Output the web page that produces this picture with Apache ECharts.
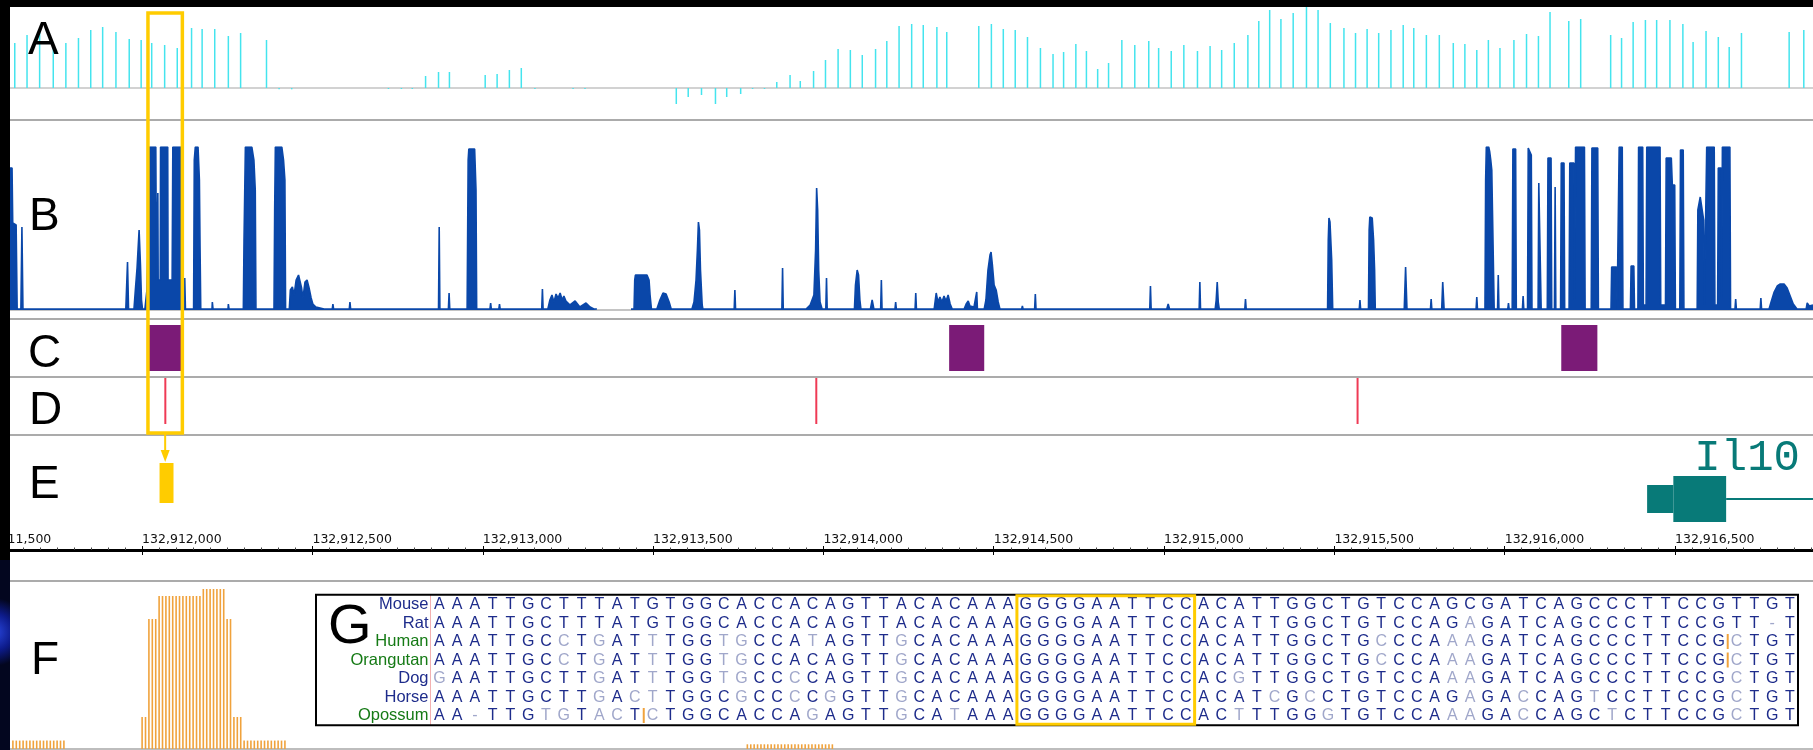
<!DOCTYPE html>
<html><head><meta charset="utf-8">
<script src="https://cdn.jsdelivr.net/npm/echarts/dist/echarts.min.js"></script>
<style>html,body{margin:0;padding:0;background:#fff}#c{width:1813px;height:750px}</style>
</head><body><div id="c"></div>
<script>
// ---------- DATA (genomic offsets are bp relative to ORIGIN) ----------
const ORIGIN = 132912000;
const VIEW = [-388, 4905];
const RULER_START = -500;
const RULER_STEP = 500;

// A: conservation (phyloP-like) bars
const consPos = [-374,-338,-301,-261,-224,-187,-151,-116,-77,-38,-3,28,66,103,145,176,213,253,289,365,402,439,723,761,793,832,870,902,1007,1042,1078,1113,1153,1265,1300,1568,1603,1642,1683,1716,1757,1792,1827,1863,1902,1932,1971,2006,2043,2079,2114,2153,2186,2222,
 2259,2293,2333,2362,2456,2493,2528,2563,2599,2637,2674,2705,2741,2772,2805,2837,2876,2914,2955,2984,3021,3058,3098,3135,3169,3206,3246,3278,3310,3343,3379,3418,3452,3488,3528,3562,3596,3630,3666,3702,3733,3770,3808,3849,3883,3918,3952,3986,4027,4064,4099,4133,4188,4223,4311,4343,4377,4413,4446,4485,4523,4553,4591,4627,4659,4695,4835,4878];
const consVal = [45,53,56,46,45,50,58,61,56,49,48,45,43,40,60,59,59,52,55,48,-1.3,-1.3,-1,-1,-1,12,16,16,13,14,18,20,-1,-1,-1,-16,-9,-7,-16,-9,-6,-1,-1,6,13,7,17,28,39,38,33,39,47,62,
 64,63,61,56,62,64,59,58,51,40,34,36,44,37,19,25,48,43,47,40,37,43,37,42,38,45,53,67,78,69,75,81,78,65,60,55,59,55,58,63,60,53,53,45,44,38,48,40,48,54,52,76,67,69,53,50,66,68,68,68,64,46,57,51,41,55,56,58];

// B: read coverage [offset, depth]
const coverage = [[-388,142],[-382,142],[-380,87],[-370,85],[-367,1],[-356,1],[-353,83],[-350,1],
[-48,1],[-43,48],[-40,1],[-24,1],[-20,20],[-15,42],[-9,80],[-5,45],[-2,10],[1,1],
[8,1],[14,20],[17,60],[21,163],[40,163],[42,30],[45,30],[46,117],[47,30],[53,30],[54,163],[75,163],[76,30],[88,30],[90,163],[115,163],[117,20],[118,3],
[123,1],[125,32],[127,1],[151,1],[153,150],[156,163],[164,163],[168,130],[170,60],[172,1],
[205,1],[206,8],[208,1],[252,1],[253,6],[255,1],
[297,1],[299,70],[303,163],[322,163],[328,150],[332,120],[334,1],
[387,1],[389,100],[391,163],[410,163],[415,150],[419,130],[421,1],
[432,1],[435,20],[441,23],[446,15],[452,30],[459,35],[463,33],[468,22],[472,12],[478,28],[484,30],[490,22],[496,12],[501,6],[510,3],[522,2],[534,1],
[558,1],[560,6],[562,1],[608,1],[610,8],[612,1],
[870,1],[872,83],[874,1],[899,1],[901,17],[903,1],
[954,1],[957,150],[959,161],[976,161],[980,120],[982,1],
[1021,1],[1023,7],[1025,1],[1047,1],[1049,6],[1051,1],[1173,1],[1175,21],[1177,1],
[1191,1],[1197,10],[1203,15],[1209,8],[1215,16],[1221,12],[1227,17],[1233,10],[1238,14],[1244,9],[1256,5],[1271,9],[1285,3],[1303,7],[1315,3],[1326,1],[1335,1],
[1336,'-'],
[1435,1],[1444,1],[1446,30],[1448,35],[1482,35],[1488,30],[1491,15],[1495,1],
[1511,1],[1520,10],[1529,17],[1538,16],[1547,8],[1553,1],
[1614,1],[1620,8],[1626,30],[1630,60],[1633,88],[1636,80],[1639,40],[1644,5],[1646,1],
[1738,1],[1740,20],[1742,1],[1878,1],[1880,42],[1882,1],
[1949,1],[1961,5],[1972,15],[1977,60],[1980,122],[1983,100],[1986,40],[1990,8],[1996,1],
[2007,1],[2009,32],[2011,1],
[2091,1],[2094,25],[2099,40],[2103,35],[2107,10],[2110,1],
[2138,1],[2143,10],[2148,1],[2168,1],[2170,30],[2172,1],[2210,1],[2212,8],[2214,1],[2269,1],[2271,17],[2273,1],
[2325,1],[2331,17],[2336,8],[2342,13],[2348,8],[2354,14],[2360,9],[2366,15],[2372,6],[2378,1],
[2413,1],[2419,6],[2425,9],[2430,4],[2442,3],[2450,18],[2452,1],
[2472,1],[2477,10],[2483,40],[2489,55],[2492,58],[2496,45],[2501,25],[2507,20],[2513,8],[2518,1],
[2582,1],[2584,4],[2586,1],[2620,1],[2622,16],[2624,1],[2958,1],[2960,24],[2962,1],[3008,1],[3012,6],[3016,1],
[3103,1],[3105,28],[3107,1],[3150,1],[3153,10],[3156,28],[3159,8],[3162,1],[3237,1],[3239,11],[3241,1],
[3480,1],[3482,70],[3484,92],[3487,88],[3492,50],[3495,1],[3573,1],[3575,10],[3577,1],
[3600,1],[3602,80],[3604,93],[3611,92],[3615,70],[3618,40],[3620,1],
[3705,1],[3709,43],[3713,1],[3782,1],[3784,11],[3786,1],[3815,1],[3818,28],[3822,1],[3916,1],[3918,13],[3920,1],
[3942,1],[3944,130],[3946,163],[3953,163],[3956,158],[3959,150],[3962,140],[3964,100],[3969,1],
[3979,1],[3981,35],[3983,1],[4009,1],[4011,7],[4013,1],
[4022,1],[4024,161],[4032,161],[4034,1],[4052,1],[4054,14],[4056,1],
[4067,1],[4069,162],[4078,155],[4080,1],[4098,1],[4100,127],[4105,127],[4107,1],
[4125,1],[4127,152],[4136,152],[4138,1],[4146,1],[4148,123],[4150,1],
[4164,1],[4166,147],[4174,147],[4176,1],
[4189,1],[4191,147],[4203,147],[4205,10],[4208,163],[4234,163],[4236,1],
[4254,1],[4256,162],[4273,162],[4275,1],
[4312,1],[4314,43],[4328,43],[4330,1],[4334,1],[4336,163],[4345,163],[4347,1],
[4369,1],[4371,44],[4379,44],[4381,1],
[4391,1],[4393,163],[4405,163],[4407,5],[4415,5],[4417,163],[4456,163],[4458,5],
[4472,5],[4474,152],[4489,152],[4492,125],[4499,125],[4501,1],
[4514,1],[4516,160],[4524,160],[4526,1],
[4565,1],[4567,100],[4574,113],[4584,90],[4586,5],
[4591,5],[4593,163],[4615,163],[4617,5],
[4625,5],[4627,142],[4635,142],[4637,10],[4639,163],[4661,163],[4663,1],
[4676,1],[4678,11],[4680,1],[4750,1],[4752,12],[4754,1],
[4776,1],[4782,8],[4791,18],[4800,24],[4809,26],[4820,26],[4829,22],[4838,14],[4847,6],[4858,1],
[4885,1],[4888,7],[4894,4],[4905,5]];

// C: CpG-like islands [start, end]
const islands = [[14,119],[2369,2472],[4166,4272]];
// D: variant sites
const snpPos = [68, 1979, 3568];
// E: highlighted element and Il10 gene model
const elementE = [[51, 92]];
const il10Name = 'Il10';
const il10Exons = [[4418, 4495, 'utr'], [4495, 4650, 'cds']];
const il10Intron = [4650, 5400];
// annotation window (yellow box)
const highlight = [17, 118];

// F: per-base conservation in zoomed window [column, height]
const fPos = [1,2,3,4,5,6,7,8,9,10,11,12,13,14,15,16,
 39,40,41,42,43,44,45,46,47,48,49,50,51,52,53,54,55,56,57,58,59,60,61,62,63,64,65,66,67,68,
 69,70,71,72,73,74,75,76,77,78,79,80,81,
 217,218,219,220,221,222,223,224,225,226,227,228,229,230,231,232,233,234,235,236,237,238,239,240,241,242];
const fVal = [8.4,8.4,8.4,8.4,8.4,8.4,8.4,8.4,8.4,8.4,8.4,8.4,8.4,8.4,8.4,8.4,
 32,32,130,130,130,153,153,153,153,153,153,153,153,153,153,153,153,153,160,160,160,160,160,160,160,130,130,32,32,32,
 8.4,8.4,8.4,8.4,8.4,8.4,8.4,8.4,8.4,8.4,8.4,8.4,8.4,
 4.7,4.7,4.7,4.7,4.7,4.7,4.7,4.7,4.7,4.7,4.7,4.7,4.7,4.7,4.7,4.7,4.7,4.7,4.7,4.7,4.7,4.7,4.7,4.7,4.7,4.7];
const F_COLUMNS = 530.4;

// G: multiple alignment
const species = ['Mouse','Rat','Human','Orangutan','Dog','Horse','Opossum'];
const alignment = [
 'AAATTGCTTTATGTGGCACCACAGTTACACAAAGGGGAATTCCACATTGGCTGTCCAGCGATCAGCCCTTCCGTTGT',
 'AAATTGCTTTATGTGGCACCACAGTTACACAAAGGGGAATTCCACATTGGCTGTCCAGAGATCAGCCCTTCCGTT-T',
 'AAATTGCCTGATTTGGTGCCATAGTTGCACAAAGGGGAATTCCACATTGGCTGCCCAAAGATCAGCCCTTCCGCTGT',
 'AAATTGCCTGATTTGGTGCCACAGTTGCACAAAGGGGAATTCCACATTGGCTGCCCAAAGATCAGCCCTTCCGCTGT',
 'GAATTGCTTGATTTGGTGCCCCAGTTGCACAAAGGGGAATTCCACGTTGGCTGTCCAAAGATCAGCCCTTCCGCTGT',
 'AAATTGCTTGACTTGGCGCCCCGGTTGCACAAAGGGGAATTCCACATCGCCTGTCCAGAGACCAGTCCTTCCGCTGT',
 'AA-TTGTGTACTCTGGCACCAGAGTTGCATAAAGGGGAATTCCACTTTGGGTGTCCAAAGACCAGCTCTTCCGCTGT'];
const insertions = [[2, 72], [3, 72], [6, 11]]; // [row, column before mark]
const motifCols = [33, 42];
const speciesGroup = {Mouse:'rod', Rat:'rod', Human:'pri', Orangutan:'pri', Dog:'oth', Horse:'oth', Opossum:'pri'};

// ---------- STYLE ----------
const C_CYAN = '#44e4ee', C_BLUE = '#0a47a9', C_PURPLE = '#7b1b77', C_RED = '#ef3a55',
      C_YEL = '#ffcc00', C_TEAL = '#087a78', C_ORANGE = '#f0a23c',
      C_DARK = '#1e2c8b', C_LIGHT = '#a0a7ca', C_GREEN = '#157a15';
const W = 1813;
const NAME_SIZE = 16.5;

const fmt = v => String(Math.round(v)).replace(/\B(?=(\d{3})+(?!\d))/g, ',');

const grids = [
 {left:10, right:0, top:7, height:112},     // 0 A
 {left:10, right:0, top:147, height:163},   // 1 B
 {left:10, right:0, top:325, height:46},    // 2 C
 {left:10, right:0, top:378, height:46},    // 3 D
 {left:10, right:0, top:455, height:75},    // 4 E
 {left:-28.2, right:0, top:500, height:50}, // 5 ruler
 {left:-28.2, right:0, top:500, height:50}, // 6 ruler (down ticks)
 {left:9.5, right:0, top:589, height:160},  // 7 F
 {left:430.5, top:595.25, width:1368.3, height:129.5} // 8 G
].map(g => Object.assign({outerBoundsMode:'none', containLabel:false}, g));

const hidden = {axisLabel:{show:false}, axisTick:{show:false}, splitLine:{show:false}, axisLine:{show:false}};
const trackX = (gi, extra) => Object.assign({type:'value', gridIndex:gi, min:ORIGIN+VIEW[0], max:ORIGIN+VIEW[1]}, hidden, extra || {});

const xAxes = [
 trackX(0, {axisLine:{show:true, onZero:true, lineStyle:{color:'#d2d2d2', width:2}}}),
 trackX(1, {axisLine:{show:true, onZero:false, lineStyle:{color:'#c4c4c4', width:2}}}),
 trackX(2), trackX(3), trackX(4),
 {type:'value', gridIndex:5, min:ORIGIN+RULER_START, max:ORIGIN+VIEW[1], interval:RULER_STEP,
  splitLine:{show:false},
  axisLine:{show:true, lineStyle:{color:'#000', width:3}},
  axisTick:{show:true, inside:true, length:4, lineStyle:{color:'#000', width:1}},
  minorTick:{show:true, splitNumber:10, length:2.5, lineStyle:{color:'#444', width:1}},
  axisLabel:{show:true, inside:true, align:'left', margin:4, showMaxLabel:false, showMinLabel:true,
   fontFamily:'DejaVu Sans', fontSize:12.5, color:'#111', formatter: fmt}},
 {type:'value', gridIndex:6, min:ORIGIN+RULER_START, max:ORIGIN+VIEW[1], interval:RULER_STEP,
  splitLine:{show:false}, axisLine:{show:false}, axisLabel:{show:false},
  axisTick:{show:true, inside:false, length:5, lineStyle:{color:'#000', width:1}}},
 {type:'value', gridIndex:7, min:0, max:F_COLUMNS, axisLabel:{show:false}, axisTick:{show:false}, splitLine:{show:false},
  axisLine:{show:true, lineStyle:{color:'#bdbdbd', width:2}}},
 {type:'category', gridIndex:8, data: alignment[0].split('').map((_, i) => i), boundaryGap:true,
  axisLabel:{show:false}, axisTick:{show:false}, splitLine:{show:false}, axisLine:{show:false}}
];

const yAxes = [
 {type:'value', gridIndex:0, min:-31, max:81, show:false},
 {type:'value', gridIndex:1, min:0, max:163, show:false},
 {type:'value', gridIndex:2, min:0, max:1, show:false},
 {type:'value', gridIndex:3, min:0, max:1, show:false},
 {type:'value', gridIndex:4, min:0, max:1, show:false},
 {type:'value', gridIndex:5, min:0, max:1, show:false},
 {type:'value', gridIndex:6, min:0, max:1, show:false},
 {type:'value', gridIndex:7, min:0, max:160, show:false},
 {type:'category', gridIndex:8, data:species, inverse:true, boundaryGap:true,
  axisTick:{show:false}, splitLine:{show:false},
  axisLine:{show:true, lineStyle:{color:'#f3b0b0', width:1}},
  axisLabel:{interval:0, hideOverlap:false, margin:2, fontFamily:'Liberation Sans', fontSize:NAME_SIZE,
   formatter: v => '{' + speciesGroup[v] + '|' + v + '}',
   rich:{rod:{color:C_DARK, fontFamily:'Liberation Sans', fontSize:NAME_SIZE},
         oth:{color:C_DARK, fontFamily:'Liberation Sans', fontSize:NAME_SIZE},
         pri:{color:C_GREEN, fontFamily:'Liberation Sans', fontSize:NAME_SIZE}}}}
];

// alignment cells
const cells = [];
alignment.forEach((seq, r) => {
  seq.split('').forEach((ch, c) => {
    cells.push({col:c, row:r, ch:ch, light: r > 0 && ch !== alignment[0][c]});
  });
});

const ENH_LANE = 0.627, GENE_LANE = 0.413;

const series = [
 {type:'bar', xAxisIndex:0, yAxisIndex:0, barWidth:1.5, itemStyle:{color:C_CYAN}, silent:true,
  data: consPos.map((p, i) => [ORIGIN + p, consVal[i]])},
 {type:'line', xAxisIndex:1, yAxisIndex:1, symbol:'none', connectNulls:false, silent:true,
  lineStyle:{color:C_BLUE, width:1.6}, areaStyle:{color:C_BLUE, opacity:1},
  data: coverage.map(([p, v]) => [ORIGIN + p, v])},
 {type:'custom', xAxisIndex:2, yAxisIndex:2, silent:true,
  data: islands.map(([s, e]) => [ORIGIN + s, ORIGIN + e]),
  renderItem: (params, api) => {
    const a = api.coord([api.value(0), 1]), b = api.coord([api.value(1), 0]);
    return {type:'rect', shape:{x:a[0], y:a[1], width:b[0]-a[0], height:b[1]-a[1]}, style:{fill:C_PURPLE}};
  }},
 {type:'custom', xAxisIndex:3, yAxisIndex:3, silent:true,
  data: snpPos.map(p => [ORIGIN + p, 0]),
  renderItem: (params, api) => {
    const a = api.coord([api.value(0), 1]), b = api.coord([api.value(0), 0]);
    return {type:'rect', shape:{x:a[0]-1, y:a[1], width:2, height:b[1]-a[1]}, style:{fill:C_RED}};
  }},
 {type:'custom', xAxisIndex:4, yAxisIndex:4, silent:true,
  data: elementE.map(([s, e]) => [ORIGIN + s, ORIGIN + e]),
  renderItem: (params, api) => {
    const a = api.coord([api.value(0), ENH_LANE]), b = api.coord([api.value(1), ENH_LANE]);
    return {type:'rect', shape:{x:a[0], y:a[1]-20, width:b[0]-a[0], height:40}, style:{fill:C_YEL}};
  }},
 {type:'custom', xAxisIndex:4, yAxisIndex:4, silent:true, clip:false,
  data: [[ORIGIN + il10Exons[0][0], ORIGIN + il10Intron[1]]],
  renderItem: (params, api) => {
    const kids = [];
    const i0 = api.coord([ORIGIN + il10Intron[0], GENE_LANE]), i1 = api.coord([ORIGIN + il10Intron[1], GENE_LANE]);
    kids.push({type:'rect', shape:{x:i0[0], y:i0[1]-1, width:i1[0]-i0[0], height:2}, style:{fill:C_TEAL}});
    il10Exons.forEach(([s, e, kind]) => {
      const a = api.coord([ORIGIN + s, GENE_LANE]), b = api.coord([ORIGIN + e, GENE_LANE]);
      const h = kind === 'cds' ? 46 : 28;
      kids.push({type:'rect', shape:{x:a[0], y:a[1]-h/2, width:b[0]-a[0], height:h}, style:{fill:C_TEAL}});
    });
    const cds = il10Exons.find(x => x[2] === 'cds');
    const t = api.coord([ORIGIN + cds[0], GENE_LANE]);
    kids.push({type:'text', style:{text:il10Name, x:t[0]+21, y:t[1]-41, align:'left', verticalAlign:'middle',
      font:'44px "Liberation Mono", monospace', fill:C_TEAL}});
    return {type:'group', children:kids};
  }},
 {type:'bar', xAxisIndex:7, yAxisIndex:7, barWidth:1.6, itemStyle:{color:C_ORANGE}, silent:true,
  data: fPos.map((p, i) => [p, fVal[i]])},
 {type:'custom', xAxisIndex:8, yAxisIndex:8, silent:true,
  data: cells.map(c => [c.col, c.row]),
  renderItem: (params, api) => {
    const c = cells[params.dataIndex];
    const p = api.coord([api.value(0), api.value(1)]);
    return {type:'text', style:{text:c.ch, x:p[0], y:p[1]+0.5, align:'center', verticalAlign:'middle',
      font:'16px "Liberation Sans", Arial, sans-serif', fill: c.light ? C_LIGHT : C_DARK}};
  }},
 {type:'custom', xAxisIndex:8, yAxisIndex:8, silent:true, z:5,
  data: insertions.map(([r, c]) => [c, r]),
  renderItem: (params, api) => {
    const p = api.coord([api.value(0), api.value(1)]);
    const bw = api.size([1, 0])[0];
    return {type:'rect', shape:{x:p[0]+bw/2-1, y:p[1]-7.5, width:2, height:15}, style:{fill:C_ORANGE}};
  }}
];

const chart = echarts.init(document.getElementById('c'), null, {renderer:'canvas'});
chart.setOption({animation:false, backgroundColor:'#ffffff', grid:grids, xAxis:xAxes, yAxis:yAxes, series:series});

// ---------- overlays positioned from the chart's own scales ----------
const gx = (gi, v) => chart.convertToPixel({gridIndex:gi}, [v, 0])[0];
const hx0 = gx(0, ORIGIN + highlight[0]), hx1 = gx(0, ORIGIN + highlight[1]);
const hcx = (hx0 + hx1) / 2;
const g8a = chart.convertToPixel({gridIndex:8}, [motifCols[0], 0]);
const g8b = chart.convertToPixel({gridIndex:8}, [motifCols[1], 0]);
const colW = chart.convertToPixel({gridIndex:8}, [1, 0])[0] - chart.convertToPixel({gridIndex:8}, [0, 0])[0];
const gTop = grids[8].top, gBot = grids[8].top + grids[8].height;

const sep = y => ({type:'line', shape:{x1:10, y1:y, x2:W, y2:y}, style:{stroke:'#ababab', lineWidth:2}, z:50});
const letter = (t, x, y, size) => ({type:'text', x:x, y:y, style:{text:t, font:(size||46)+'px "Liberation Sans", Arial, sans-serif', fill:'#000', verticalAlign:'middle', align:'left'}, z:60});

chart.setOption({graphic:[
  sep(120), sep(319), sep(377), sep(435), sep(581),
  letter('A', 28, 41), letter('B', 29, 217), letter('C', 28, 354), letter('D', 29, 411), letter('E', 29, 485), letter('F', 31, 661),
  {type:'rect', shape:{x:316, y:gTop-0.5, width:1798-316, height:gBot-gTop+1}, style:{fill:null, stroke:'#000', lineWidth:2}, z:40},
  letter('G', 328, 628, 56),
  {type:'rect', shape:{x:g8a[0]-colW/2, y:gTop+0.5, width:(g8b[0]-g8a[0])+colW, height:gBot-gTop-1}, style:{fill:null, stroke:C_YEL, lineWidth:3}, z:45},
  {type:'rect', shape:{x:hx0, y:13, width:hx1-hx0, height:420}, style:{fill:null, stroke:C_YEL, lineWidth:3.5}, z:70},
  {type:'line', shape:{x1:hcx, y1:433, x2:hcx, y2:452}, style:{stroke:C_YEL, lineWidth:2}, z:70},
  {type:'polygon', shape:{points:[[hcx-4.5, 450], [hcx+4.5, 450], [hcx, 462]]}, style:{fill:C_YEL}, z:70},
  {type:'rect', shape:{x:0, y:0, width:W, height:7}, style:{fill:'#000'}, z:90},
  {type:'rect', shape:{x:0, y:0, width:10, height:750}, style:{fill:'#000'}, z:90},
  {type:'rect', shape:{x:0, y:560, width:10, height:190}, z:91,
   style:{fill:{type:'radial', x:-6, y:632, r:34, global:true,
     colorStops:[{offset:0, color:'#2a48e0'}, {offset:0.55, color:'#0d1b8a'}, {offset:1, color:'#03061f'}]}}}
]});
</script>
</body></html>
